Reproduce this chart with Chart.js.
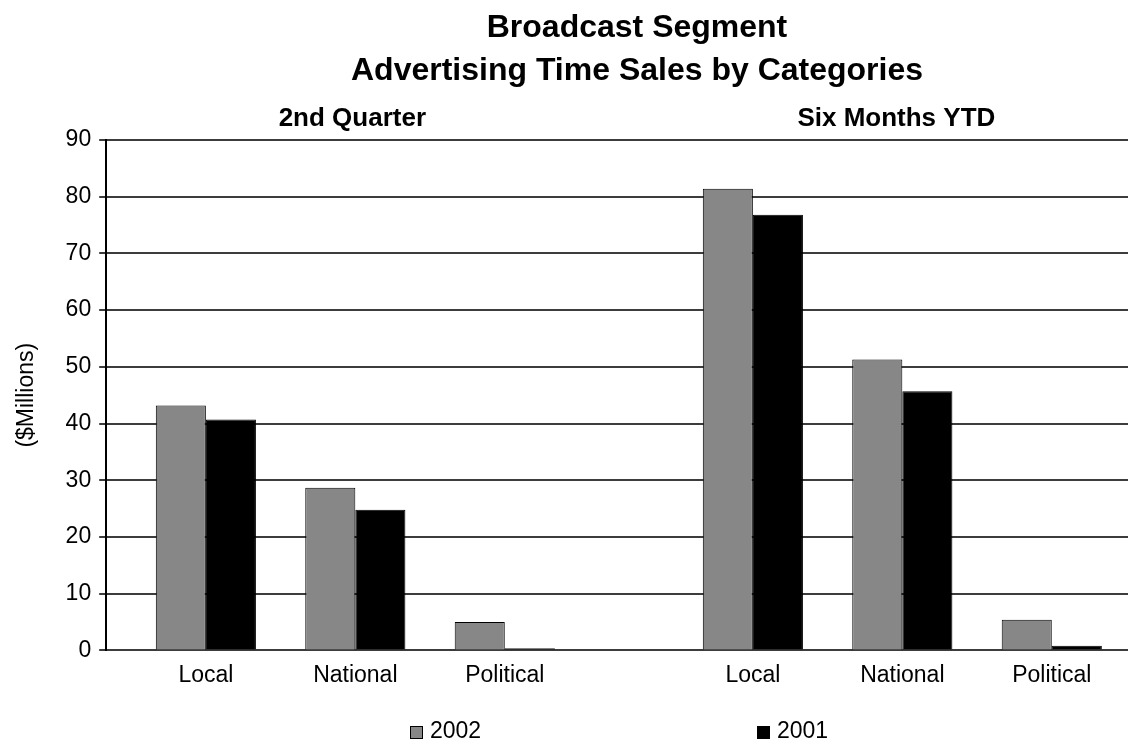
<!DOCTYPE html>
<html>
<head>
<meta charset="utf-8">
<script src="https://cdn.jsdelivr.net/npm/chart.js@4"></script>
<style>
html, body { margin: 0; padding: 0; background: #fff; }
</style>
</head>
<body>
<canvas id="myChart" width="1141" height="741"></canvas>
<script>
const titleLines = ['Broadcast Segment', 'Advertising Time Sales by Categories'];
const categories = ['Local', 'National', 'Political'];
const periods = ['2nd Quarter', 'Six Months YTD'];
const years = ['2002', '2001'];
const quarter2002 = [43.2, 28.7, 5.0];
const quarter2001 = [40.7, 24.8, 0.4];
const ytd2002 = [81.4, 51.3, 5.4];
const ytd2001 = [76.8, 45.7, 0.8];
const yTicks = [0, 10, 20, 30, 40, 50, 60, 70, 80, 90];

const barColors = ['#878787', '#000000'];
const FONT = "'Liberation Sans', Arial, Helvetica, sans-serif";

// layout only: where each period group starts on the x scale (1 unit = one category)
const groupStart = [0, 3.66];
const headerPos = [0.98, 4.62];
const legendLeft = [410, 757];
const titleCenter = 637;
const titleY = [28, 71];

function place(values, g) {
    return values.map((v, i) => ({ x: groupStart[g] + i, y: v }));
}

const tickPositions = [];
const tickLabels = [];
periods.forEach((p, g) => {
    categories.forEach((c, i) => {
        tickPositions.push(groupStart[g] + i);
        tickLabels.push(c);
    });
});

// title, group headers and the spread-out legend
const extras = {
    id: 'extras',
    afterDraw(chart) {
        const ctx = chart.ctx;
        const x = chart.scales.x;
        const top = chart.chartArea.top;
        ctx.save();
        ctx.fillStyle = '#000';
        ctx.textAlign = 'center';
        ctx.textBaseline = 'middle';

        ctx.font = 'bold 32px ' + FONT;
        titleLines.forEach((t, i) => ctx.fillText(t, titleCenter, titleY[i]));

        ctx.font = 'bold 26px ' + FONT;
        periods.forEach((p, g) => {
            ctx.fillText(p, x.getPixelForValue(headerPos[g]), top - 21);
        });

        ctx.font = '23px ' + FONT;
        ctx.textAlign = 'left';
        const ly = chart.height - 9;
        chart.data.datasets.forEach((ds, i) => {
            const bx = legendLeft[i];
            ctx.fillStyle = ds.backgroundColor;
            ctx.fillRect(bx, ly - 6, 13, 13);
            ctx.strokeStyle = '#000';
            ctx.lineWidth = 1;
            ctx.strokeRect(bx + 0.5, ly - 5.5, 12, 12);
            ctx.fillStyle = '#000';
            ctx.fillText(ds.label, bx + 20, ly);
        });
        ctx.restore();
    }
};

let ctx = document.getElementById('myChart').getContext('2d');

const myChart = new Chart(ctx, {
    type: 'bar',
    data: {
        datasets: [{
            label: years[0],
            data: place(quarter2002, 0).concat(place(ytd2002, 1)),
            backgroundColor: barColors[0],
            borderColor: '#000',
            borderWidth: 1,
            categoryPercentage: 0.67,
            barPercentage: 1
        }, {
            label: years[1],
            data: place(quarter2001, 0).concat(place(ytd2001, 1)),
            backgroundColor: barColors[1],
            borderColor: '#000',
            borderWidth: 1,
            categoryPercentage: 0.67,
            barPercentage: 1
        }]
    },
    options: {
        responsive: false,
        animation: false,
        layout: {
            padding: { left: 13, right: 13, top: 140, bottom: 41 }
        },
        plugins: {
            legend: { display: false },
            tooltip: { enabled: false },
            title: { display: false }
        },
        scales: {
            x: {
                type: 'linear',
                offset: false,
                min: -0.667,
                max: 6.17,
                grid: { display: false, drawTicks: false },
                border: { display: false },
                afterBuildTicks: (scale) => {
                    scale.ticks = tickPositions.map(v => ({ value: v }));
                },
                ticks: {
                    autoSkip: false,
                    maxRotation: 0,
                    padding: 11,
                    color: '#000',
                    font: { family: FONT, size: 23 },
                    callback: (v, i) => tickLabels[i]
                }
            },
            y: {
                min: 0,
                max: 90,
                afterBuildTicks: (scale) => {
                    scale.ticks = yTicks.map(v => ({ value: v }));
                },
                grid: { color: '#3c3c3c', lineWidth: 2, tickLength: 7 },
                border: { color: '#000', width: 2 },
                ticks: {
                    padding: 8,
                    color: '#000',
                    font: { family: FONT, size: 23 }
                },
                title: {
                    display: true,
                    text: '($Millions)',
                    color: '#000',
                    font: { family: FONT, size: 23 },
                    padding: { top: 0, bottom: 17 }
                }
            }
        }
    },
    plugins: [extras]
});
</script>
</body>
</html>
